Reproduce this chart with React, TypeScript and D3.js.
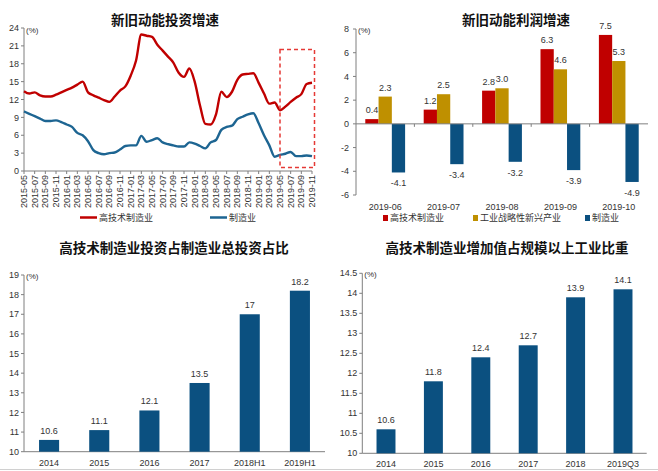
import React from "react";
import * as d3 from "d3";

// ---------- Chart 1: 新旧动能投资增速 ----------
const monthStart = new Date(2015, 4, 1);
const months: Date[] = d3.timeMonth.range(monthStart, new Date(2019, 11, 1)); // 2015-05 .. 2019-11
const fmtMonth = d3.timeFormat("%Y-%m");
const hiTechInvest = [
  13.4, 13.0, 13.2, 12.7, 12.5, 12.5, 12.8, 13.2, 13.6, 14.0, 14.5, 15.0,
  13.2, 12.7, 12.3, 11.9, 11.6, 12.5, 13.5, 14.2, 16.0, 18.5, 22.9, 22.7,
  22.5, 21.2, 20.2, 19.2, 18.2, 16.5, 15.8, 17.2, 15.0, 11.0, 7.9, 7.8,
  9.5, 13.3, 12.4, 13.3, 15.3, 16.2, 16.3, 16.4, 14.8, 13.0, 11.3, 11.5,
  10.2, 10.8, 11.6, 12.3, 12.9, 14.6, 14.8,
];
const mfgInvest = [
  10.0, 9.6, 9.2, 8.8, 8.4, 8.4, 8.5, 8.2, 7.8, 7.4, 6.4, 6.0,
  5.0, 3.5, 3.0, 2.8, 3.0, 3.1, 3.6, 4.2, 4.3, 4.3, 5.9, 4.9,
  5.2, 5.5, 4.8, 4.5, 4.3, 4.1, 4.1, 4.8, 4.6, 4.2, 3.8, 4.8,
  5.2, 6.9, 7.4, 7.6, 8.7, 9.1, 9.5, 9.7, 8.0, 6.0, 4.3, 2.4,
  2.7, 2.9, 3.2, 2.5, 2.5, 2.6, 2.5,
];
const invTicks = [0, 3, 6, 9, 12, 15, 18, 21, 24];

// ---------- Chart 2: 新旧动能利润增速 ----------
const profitMonths = ["2019-06", "2019-07", "2019-08", "2019-09", "2019-10"];
const profitSeries = ["高技术制造业", "工业战略性新兴产业", "制造业"];
const profitHiTech = [0.4, 1.2, 2.8, 6.3, 7.5];
const profitEmerging = [2.3, 2.5, 3.0, 4.6, 5.3];
const profitMfg = [-4.1, -3.4, -3.2, -3.9, -4.9];
const profitTicks = [-6, -4, -2, 0, 2, 4, 6, 8];

// ---------- Chart 3 ----------
const shareYears = ["2014", "2015", "2016", "2017", "2018H1", "2019H1"];
const shareValues = [10.6, 11.1, 12.1, 13.5, 17, 18.2];
const shareTicks = [10, 11, 12, 13, 14, 15, 16, 17, 18, 19];

// ---------- Chart 4 ----------
const addYears = ["2014", "2015", "2016", "2017", "2018", "2019Q3"];
const addValues = [10.6, 11.8, 12.4, 12.7, 13.9, 14.1];
const addTicks = [10, 10.5, 11, 11.5, 12, 12.5, 13, 13.5, 14, 14.5];

const RED = "#c00000";
const GOLD = "#bf9000";
const BLUE_LINE = "#1d6592";
const BLUE_BAR = "#0b5080";
const AXIS = "#7f7f7f";
const FONT = "'Liberation Sans Narrow', 'Liberation Sans', Arial, sans-serif";
const CJK = "'Noto Sans CJK SC', sans-serif";
const FS = 9;

function LineChart() {
  const x = d3.scaleLinear().domain([0, months.length - 1]).range([24, 312]);
  const y = d3.scaleLinear().domain([0, 24]).range([171, 28]);
  const line = d3
    .line<number>()
    .x((_, i) => x(i))
    .y((d) => y(d))
    .curve(d3.curveMonotoneX);
  return (
    <g>
      <text x={165} y={25} textAnchor="middle" fontFamily={CJK} fontWeight="bold" fontSize={13.5} fill="#111">
        新旧动能投资增速
      </text>
      <line x1={24} x2={24} y1={28} y2={171} stroke={AXIS} />
      <line x1={24} x2={312} y1={171} y2={171} stroke={AXIS} />
      {invTicks.map((t) => (
        <g key={t}>
          <line x1={21} x2={24} y1={y(t)} y2={y(t)} stroke={AXIS} />
          <text x={19} y={y(t)} dy="0.35em" textAnchor="end" fontFamily={FONT} fontSize={FS} fill="#333">
            {t}
          </text>
        </g>
      ))}
      <text x={26} y={30} dy="0.35em" fontFamily={FONT} fontSize={8} fill="#333">(%)</text>
      {months.map((m, i) =>
        i % 2 === 0 ? (
          <g key={i}>
            <line x1={x(i)} x2={x(i)} y1={171} y2={174} stroke={AXIS} />
            <text
              transform={`translate(${x(i)},175) rotate(-90)`}
              dy="0.35em"
              textAnchor="end"
              fontFamily={FONT}
              fontSize={9}
              fill="#333"
            >
              {fmtMonth(m)}
            </text>
          </g>
        ) : null
      )}
      <path d={line(hiTechInvest) || ""} fill="none" stroke={RED} strokeWidth={2.4} />
      <path d={line(mfgInvest) || ""} fill="none" stroke={BLUE_LINE} strokeWidth={2.4} />
      <rect
        x={x(48)}
        y={y(20.4)}
        width={x(54) - x(48) + 2.5}
        height={y(0.6) - y(20.4)}
        fill="none"
        stroke="#e53935"
        strokeWidth={1.5}
        strokeDasharray="4,3"
      />
      <line x1={80} x2={97} y1={217.5} y2={217.5} stroke={RED} strokeWidth={2.5} />
      <text x={99} y={217.5} dy="0.35em" fontFamily={CJK} fontSize={9} fill="#333">高技术制造业</text>
      <line x1={210} x2={227} y1={217.5} y2={217.5} stroke={BLUE_LINE} strokeWidth={2.5} />
      <text x={229} y={217.5} dy="0.35em" fontFamily={CJK} fontSize={9} fill="#333">制造业</text>
    </g>
  );
}

function ProfitChart() {
  const x0 = d3.scaleBand().domain(profitMonths).range([356, 648]);
  const x1 = d3.scaleBand().domain(profitSeries).range([0, x0.bandwidth()]).paddingOuter(0.7);
  const y = d3.scaleLinear().domain([-6, 8]).range([195, 29]);
  const seriesVals = [profitHiTech, profitEmerging, profitMfg];
  const colors = [RED, GOLD, BLUE_BAR];
  return (
    <g>
      <text x={516} y={25} textAnchor="middle" fontFamily={CJK} fontWeight="bold" fontSize={13.5} fill="#111">
        新旧动能利润增速
      </text>
      <line x1={356} x2={356} y1={29} y2={195} stroke={AXIS} />
      {profitTicks.map((t) => (
        <g key={t}>
          <line x1={353} x2={356} y1={y(t)} y2={y(t)} stroke={AXIS} />
          <text x={349} y={y(t)} dy="0.35em" textAnchor="end" fontFamily={FONT} fontSize={FS} fill="#333">
            {t}
          </text>
        </g>
      ))}
      <text x={358} y={30} dy="0.35em" fontFamily={FONT} fontSize={8} fill="#333">(%)</text>
      {profitMonths.map((m, gi) => (
        <g key={m}>
          {seriesVals.map((vals, si) => {
            const v = vals[gi];
            const bx = (x0(m) || 0) + (x1(profitSeries[si]) || 0);
            const top = Math.min(y(v), y(0));
            const h = Math.abs(y(v) - y(0));
            return (
              <g key={si}>
                <rect x={bx} y={top} width={x1.bandwidth()} height={h} fill={colors[si]} />
                <text
                  x={bx + x1.bandwidth() / 2}
                  y={v >= 0 ? y(v) - 6 : y(v) + 14}
                  textAnchor="middle"
                  fontFamily={FONT}
                  fontSize={FS}
                  fill="#333"
                >
                  {v.toFixed(1)}
                </text>
              </g>
            );
          })}
          <text
            x={(x0(m) || 0) + x0.bandwidth() / 2}
            y={207}
            dy="0.35em"
            textAnchor="middle"
            fontFamily={FONT}
            fontSize={FS}
            fill="#333"
          >
            {m}
          </text>
        </g>
      ))}
      <line x1={356} x2={648} y1={y(0)} y2={y(0)} stroke={AXIS} />
      {profitMonths.slice(1).map((m) => (
        <line key={m} x1={x0(m)} x2={x0(m)} y1={y(0)} y2={y(0) + 3} stroke={AXIS} />
      ))}
      {profitSeries.map((s, i) => {
        const lx = [383, 473, 585][i];
        return (
          <g key={s}>
            <rect x={lx} y={215} width={5} height={6} fill={colors[i]} />
            <text x={lx + 7} y={218} dy="0.35em" fontFamily={CJK} fontSize={9} fill="#333">
              {s}
            </text>
          </g>
        );
      })}
    </g>
  );
}

function BarChart(props: {
  title: string;
  cx: number;
  cats: string[];
  vals: number[];
  ticks: number[];
  x0: number;
  x1: number;
  yTop: number;
  yBot: number;
  dom: [number, number];
}) {
  const { title, cx, cats, vals, ticks, x0, x1, yTop, yBot, dom } = props;
  const x = d3.scaleBand().domain(cats).range([x0, x1]).paddingInner(0.6).paddingOuter(0.3);
  const y = d3.scaleLinear().domain(dom).range([yBot, yTop]);
  return (
    <g>
      <text x={cx} y={253} textAnchor="middle" fontFamily={CJK} fontWeight="bold" fontSize={13.5} fill="#111">
        {title}
      </text>
      <line x1={x0} x2={x0} y1={yTop} y2={yBot} stroke={AXIS} />
      <line x1={x0} x2={x1} y1={yBot} y2={yBot} stroke={AXIS} />
      {ticks.map((t) => (
        <g key={t}>
          <line x1={x0 - 3} x2={x0} y1={y(t)} y2={y(t)} stroke={AXIS} />
          <text x={x0 - 5} y={y(t)} dy="0.35em" textAnchor="end" fontFamily={FONT} fontSize={FS} fill="#333">
            {t}
          </text>
        </g>
      ))}
      <text x={x0 + 2} y={yTop + 1} dy="0.35em" fontFamily={FONT} fontSize={8} fill="#333">(%)</text>
      {cats.map((c, i) => (
        <g key={c}>
          <rect x={x(c)} y={y(vals[i])} width={x.bandwidth()} height={yBot - y(vals[i])} fill={BLUE_BAR} />
          <text
            x={(x(c) || 0) + x.bandwidth() / 2}
            y={y(vals[i]) - 6}
            textAnchor="middle"
            fontFamily={FONT}
            fontSize={FS}
            fill="#333"
          >
            {vals[i]}
          </text>
          <text
            x={(x(c) || 0) + x.bandwidth() / 2}
            y={yBot + 11}
            dy="0.35em"
            textAnchor="middle"
            fontFamily={FONT}
            fontSize={FS}
            fill="#333"
          >
            {c}
          </text>
        </g>
      ))}
    </g>
  );
}

export default function App() {
  return (
    <svg
      width={658}
      height={471}
      style={{ position: "absolute", left: 0, top: 0, background: "#fff" }}
    >
      <rect width={658} height={471} fill="#fff" />
      <LineChart />
      <ProfitChart />
      <BarChart
        title="高技术制造业投资占制造业总投资占比"
        cx={174}
        cats={shareYears}
        vals={shareValues}
        ticks={shareTicks}
        x0={24}
        x1={325}
        yTop={275}
        yBot={451.7}
        dom={[10, 19]}
      />
      <BarChart
        title="高技术制造业增加值占规模以上工业比重"
        cx={507}
        cats={addYears}
        vals={addValues}
        ticks={addTicks}
        x0={362.3}
        x1={646.7}
        yTop={273.3}
        yBot={453.3}
        dom={[10, 14.5]}
      />
      <line x1={0} x2={658} y1={469.5} y2={469.5} stroke="#d0d0d0" />
    </svg>
  );
}
